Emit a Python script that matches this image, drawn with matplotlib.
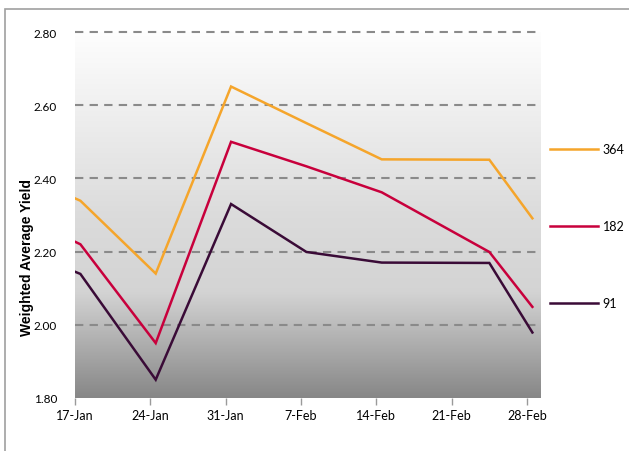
import numpy as np
import pandas as pd
import matplotlib
matplotlib.use("Agg")
import matplotlib.pyplot as plt
from matplotlib.colors import LinearSegmentedColormap
from matplotlib.patches import Rectangle

# auction dates and weighted average yields
dates = ["16-Jan", "17-Jan", "24-Jan", "31-Jan", "7-Feb", "14-Feb", "24-Feb", "28-Feb"]
yield_364 = [2.352, 2.339, 2.140, 2.651, 2.551, 2.452, 2.451, 2.291]
yield_182 = [2.234, 2.220, 1.950, 2.500, 2.433, 2.362, 2.199, 2.049]
yield_91 = [2.151, 2.139, 1.850, 2.330, 2.199, 2.170, 2.169, 1.979]
tick_labels = ["17-Jan", "24-Jan", "31-Jan", "7-Feb", "14-Feb", "21-Feb", "28-Feb"]
series_names = ["364", "182", "91"]
colors = ["#F5A52B", "#C8003C", "#3A0B37"]

plt.rcParams["font.family"] = ["Lato", "DejaVu Sans"]

start = pd.Timestamp("2013-01-17")
days = np.array([(pd.to_datetime(d + "-2013", format="%d-%b-%Y") - start).days for d in dates])
x = days + 0.5  # dates sit in the middle of their day
tick_days = [(pd.to_datetime(t + "-2013", format="%d-%b-%Y") - start).days for t in tick_labels]

fig = plt.figure(figsize=(6.29, 4.52), dpi=100)
ax = fig.add_axes([75 / 629, 1 - 399 / 452, 466 / 629, 366 / 452])

# gradient background
cmap = LinearSegmentedColormap.from_list(
    "bg", [(0.0, (0.53, 0.53, 0.53)), (0.29, (0.83, 0.83, 0.83)),
           (0.5, (0.86, 0.86, 0.86)), (1.0, (0.995, 0.995, 0.995))])
grad = np.linspace(0, 1, 256).reshape(-1, 1)
ax.imshow(grad, extent=[0, 1, 0, 1], transform=ax.transAxes, origin="lower",
          aspect="auto", cmap=cmap, zorder=0)

for yy in [2.0, 2.2, 2.4, 2.6, 2.8]:
    ax.axhline(yy, color="#8a8a8a", lw=1.5, ls=(0, (4, 3)), zorder=1, clip_on=False)

handles = []
for vals, c, name in zip([yield_364, yield_182, yield_91], colors, series_names):
    h, = ax.plot(x, vals, color=c, lw=1.8, zorder=3, label=name, solid_joinstyle="miter")
    handles.append(h)

ax.set_xlim(0, 43.3)
ax.set_ylim(1.8, 2.8)
ax.set_yticks([1.8, 2.0, 2.2, 2.4, 2.6, 2.8])
ax.set_yticklabels(["1.80", "2.00", "2.20", "2.40", "2.60", "2.80"])
ax.set_xticks(tick_days)
ax.set_xticklabels(tick_labels)
ax.tick_params(axis="y", length=0, pad=13, labelsize=8.5)
ax.tick_params(axis="x", length=5, color="#9a9a9a", width=1, pad=3, labelsize=9)
for s in ax.spines.values():
    s.set_visible(False)

fig.text(27 / 629, 1 - 258 / 452, "Weighted Average Yield", rotation=90,
         ha="center", va="center", fontsize=10, fontweight="bold",
         family=["Liberation Sans", "DejaVu Sans"])

fig.legend(handles, series_names, loc="center left",
           bbox_to_anchor=(550 / 629, 1 - 227 / 452), frameon=False,
           borderpad=0, borderaxespad=0, handlelength=3.8, handletextpad=0.4,
           labelspacing=5.2, fontsize=9)

fig.patches.append(Rectangle((4.5 / 629, -0.2), 1.3, 1.2 - 10 / 452, fill=False,
                             edgecolor="#a0a0a0", lw=1.2, transform=fig.transFigure))

fig.savefig("out.png", dpi=100)
